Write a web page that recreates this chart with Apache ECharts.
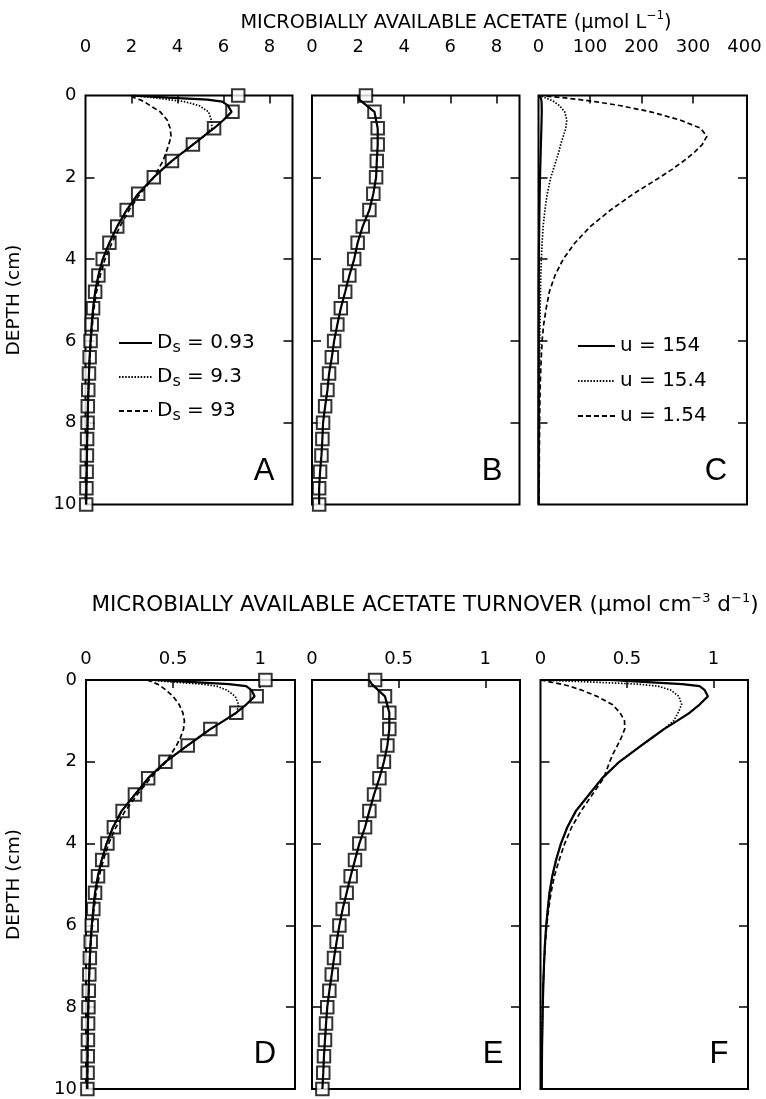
<!DOCTYPE html>
<html><head><meta charset="utf-8">
<script src="https://cdn.jsdelivr.net/npm/echarts@6/dist/echarts.min.js"></script>
<style>html,body{margin:0;padding:0;background:#fff}#c{width:766px;height:1099px}</style>
</head><body><div id="c"></div>
<script>
// ---------------- data ----------------
const squareDepths = [0,0.4,0.8,1.2,1.6,2.0,2.4,2.8,3.2,3.6,4.0,4.4,4.8,5.2,5.6,6.0,6.4,6.8,7.2,7.6,8.0,8.4,8.8,9.2,9.6,10];
const lineDepths = [0,0.05,0.1,0.15,0.25,0.4,0.6,0.8,1.0,1.2,1.4,1.6,1.8,2.0,2.4,2.8,3.2,3.6,4.0,4.4,4.8,5.2,5.6,6.0,6.5,7,7.5,8,8.5,9,9.5,10];
const profileDepths = [0,0.1,0.4,0.8,1.2,1.6,2.0,2.4,2.8,3.2,3.6,4.0,4.4,4.8,5.2,5.6,6.0,6.4,6.8,7.2,7.6,8.0,8.4,8.8,9.2,9.6,10];

// Acetate (umol/L)
const acetateSquaresA = [6.64,6.39,5.59,4.67,3.76,2.97,2.29,1.79,1.38,1.04,0.75,0.56,0.42,0.33,0.27,0.22,0.18,0.15,0.12,0.10,0.09,0.07,0.06,0.05,0.04,0.03];
const acetateBase   = [2.0,3.6,5.3,5.95,6.2,6.35,6.0,5.59,5.13,4.67,4.21,3.76,3.35,2.97,2.29,1.79,1.38,1.04,0.75,0.56,0.42,0.33,0.27,0.22,0.17,0.14,0.11,0.09,0.07,0.06,0.04,0.03];
const acetateDs9_3  = [2.0,2.9,3.6,4.3,4.95,5.35,5.47,5.5,5.13,4.67,4.21,3.76,3.35,2.97,2.29,1.79,1.38,1.04,0.75,0.56,0.42,0.33,0.27,0.22,0.17,0.14,0.11,0.09,0.07,0.06,0.04,0.03];
const acetateDs93   = [2.0,2.1,2.35,2.55,2.82,3.25,3.55,3.68,3.72,3.62,3.5,3.37,3.17,2.98,2.38,1.9,1.5,1.15,0.85,0.64,0.48,0.37,0.3,0.24,0.18,0.14,0.11,0.09,0.07,0.06,0.04,0.03];
const acetateSquaresB = [2.34,2.71,2.85,2.85,2.81,2.78,2.66,2.49,2.2,1.98,1.83,1.62,1.44,1.25,1.1,0.96,0.86,0.74,0.67,0.57,0.48,0.45,0.41,0.35,0.31,0.31];
const acetateLineB    = [2.0,2.05,2.71,2.85,2.85,2.81,2.78,2.66,2.49,2.2,1.98,1.83,1.62,1.44,1.25,1.1,0.96,0.86,0.74,0.67,0.57,0.48,0.45,0.41,0.35,0.31,0.31];
const acetateU15_4 = [0,12,22,30,41,51,55,53,48,43,39,34,29,24,17,12.5,9,7,5.5,4.5,3.8,3.2,2.8,2.4,2,1.7,1.4,1.2,1.0,0.9,0.8,0.7];
const acetateU1_54 = [0,45,80,110,160,218,275,315,327,318,302,282,260,236,185,140,101,71,48,32,21,15,10,7,5,3.5,2.7,2.2,1.8,1.5,1.3,1.2];

// Acetate turnover (umol cm-3 d-1)
const turnoverSquaresD = [1.03,0.98,0.863,0.714,0.584,0.456,0.357,0.281,0.21,0.16,0.123,0.093,0.069,0.052,0.042,0.033,0.027,0.022,0.019,0.016,0.014,0.012,0.011,0.01,0.009,0.008];
const turnoverBase   = [0.4,0.62,0.82,0.92,0.95,0.968,0.92,0.863,0.79,0.714,0.649,0.584,0.52,0.456,0.357,0.281,0.205,0.155,0.118,0.09,0.068,0.052,0.042,0.033,0.025,0.02,0.016,0.013,0.011,0.009,0.008,0.007];
const turnoverDs9_3  = [0.36,0.5,0.66,0.75,0.81,0.857,0.876,0.865,0.79,0.714,0.649,0.584,0.52,0.456,0.357,0.281,0.205,0.155,0.118,0.09,0.068,0.052,0.042,0.033,0.025,0.02,0.016,0.013,0.011,0.009,0.008,0.007];
const turnoverDs93   = [0.35,0.38,0.41,0.43,0.46,0.5,0.535,0.556,0.565,0.56,0.543,0.52,0.49,0.46,0.37,0.295,0.225,0.172,0.13,0.1,0.076,0.058,0.046,0.036,0.027,0.021,0.017,0.014,0.012,0.01,0.009,0.008];
const turnoverSquaresE = [0.364,0.421,0.446,0.446,0.435,0.415,0.389,0.358,0.331,0.306,0.273,0.248,0.223,0.2,0.177,0.158,0.142,0.127,0.114,0.1,0.088,0.081,0.075,0.069,0.065,0.06];
const turnoverLineE    = [0.33,0.345,0.421,0.446,0.446,0.435,0.415,0.389,0.358,0.331,0.306,0.273,0.248,0.223,0.2,0.177,0.158,0.142,0.127,0.114,0.1,0.088,0.081,0.075,0.069,0.065,0.06];
const turnoverU15_4 = [0,0.3,0.56,0.68,0.755,0.8,0.816,0.796,0.77,0.714,0.649,0.584,0.52,0.456,0.357,0.281,0.205,0.155,0.118,0.09,0.068,0.052,0.042,0.033,0.025,0.02,0.016,0.013,0.011,0.009,0.008,0.007];
const turnoverU1_54 = [0,0.06,0.12,0.167,0.24,0.327,0.415,0.46,0.486,0.487,0.468,0.445,0.42,0.4,0.365,0.3,0.235,0.18,0.14,0.108,0.08,0.061,0.047,0.036,0.027,0.02,0.015,0.012,0.01,0.008,0.007,0.006];

// tick labels
const depthTicks = [0,2,4,6,8,10];
const acetateTicksAB = [0,2,4,6,8];
const acetateTicksC = [0,100,200,300,400];
const turnoverTicks = [0,0.5,1];
const legendDs = ['Ds = 0.93','Ds = 9.3','Ds = 93'];
const legendU = ['u = 154','u = 15.4','u = 1.54'];

// ---------------- chart ----------------
const FONT = 'DejaVu Sans';
const pairs = (vals, depths) => vals.map((v, i) => [v, depths[i]]);

const panels = [
  {left:85.5, top:95.5, width:207, height:409, max:9, labels:acetateTicksAB, ticks:[2,4,6,8], labelMargin:39, ylab:true},
  {left:312, top:95.5, width:207.5, height:409, max:9, labels:acetateTicksAB, ticks:[2,4,6,8], labelMargin:39, ylab:false},
  {left:538.5, top:95.5, width:208.5, height:409, max:405, labels:acetateTicksC, ticks:[100,200,300], labelMargin:39, ylab:false},
  {left:86, top:680, width:209, height:409, max:1.2, labels:turnoverTicks, ticks:[0.5,1], labelMargin:12, ylab:true},
  {left:312, top:680, width:208, height:409, max:1.2, labels:turnoverTicks, ticks:[0.5,1], labelMargin:12, ylab:false},
  {left:540.5, top:680, width:207.5, height:409, max:1.2, labels:turnoverTicks, ticks:[0.5,1], labelMargin:12, ylab:false}
];

const grid = [], xAxis = [], yAxis = [];
panels.forEach((p, i) => {
  grid.push({left:p.left, top:p.top, width:p.width, height:p.height, show:true, borderColor:'#000', borderWidth:2, backgroundColor:'transparent'});
  xAxis.push({gridIndex:i, type:'value', position:'top', min:0, max:p.max,
    axisLine:{show:false}, splitLine:{show:false},
    axisTick:{show:true, inside:true, length:8, lineStyle:{color:'#000', width:1.5}, customValues:p.ticks},
    axisLabel:{show:true, customValues:p.labels, margin:p.labelMargin, color:'#000', fontSize:18, fontFamily:FONT}
  });
});
panels.forEach((p, i) => {
  yAxis.push({gridIndex:i, type:'value', inverse:true, min:0, max:10, position:'left',
    axisLine:{show:false}, splitLine:{show:false},
    axisTick:{show:true, inside:true, length:9, lineStyle:{color:'#000', width:1.5}, customValues:[2,4,6,8]},
    axisLabel:{show:p.ylab, customValues:depthTicks, margin:9, color:'#000', fontSize:18, fontFamily:FONT},
    name: p.ylab ? 'DEPTH (cm)' : '', nameLocation:'middle', nameGap:62,
    nameTextStyle:{color:'#000', fontSize:18.5, fontFamily:FONT}
  });
});
panels.forEach((p, i) => {
  yAxis.push({gridIndex:i, type:'value', inverse:true, min:0, max:10, position:'right',
    axisLine:{show:false}, splitLine:{show:false},
    axisTick:{show:true, inside:true, length:9, lineStyle:{color:'#000', width:1.5}, customValues:[2,4,6,8]},
    axisLabel:{show:false}
  });
});

const solid = {color:'#000', width:2.2, type:'solid'};
const dotted = {color:'#000', width:1.7, type:[1.5,1.6]};
const dashed = {color:'#000', width:1.7, type:[5,3]};

function line(name, vals, depths, idx, style) {
  return {type:'line', name, data:pairs(vals, depths), xAxisIndex:idx, yAxisIndex:idx,
    symbol:'none', lineStyle:style, itemStyle:{color:'#000'}, z:4, animation:false};
}
function squares(name, vals, idx) {
  return {type:'scatter', name, data:pairs(vals, squareDepths), xAxisIndex:idx, yAxisIndex:idx,
    symbol:'rect', symbolSize:12.5, clip:false,
    itemStyle:{color:'#fff', borderColor:'#000', borderWidth:2}, z:3, animation:false};
}

const series = [
  squares('A squares', acetateSquaresA, 0),
  line(legendDs[0], acetateBase, lineDepths, 0, solid),
  line(legendDs[1], acetateDs9_3, lineDepths, 0, dotted),
  line(legendDs[2], acetateDs93, lineDepths, 0, dashed),
  squares('B squares', acetateSquaresB, 1),
  line('B profile', acetateLineB, profileDepths, 1, solid),
  line(legendU[0], acetateBase, lineDepths, 2, solid),
  line(legendU[1], acetateU15_4, lineDepths, 2, dotted),
  line(legendU[2], acetateU1_54, lineDepths, 2, dashed),
  squares('D squares', turnoverSquaresD, 3),
  line(legendDs[0], turnoverBase, lineDepths, 3, solid),
  line(legendDs[1], turnoverDs9_3, lineDepths, 3, dotted),
  line(legendDs[2], turnoverDs93, lineDepths, 3, dashed),
  squares('E squares', turnoverSquaresE, 4),
  line('E profile', turnoverLineE, profileDepths, 4, solid),
  line(legendU[0], turnoverBase, lineDepths, 5, solid),
  line(legendU[1], turnoverU15_4, lineDepths, 5, dotted),
  line(legendU[2], turnoverU1_54, lineDepths, 5, dashed)
];

const legendText = {color:'#000', fontSize:20, fontFamily:FONT,
  rich:{d:{fontSize:20, lineHeight:26, fontFamily:FONT, color:'#000'},
        s:{fontSize:16, lineHeight:15, verticalAlign:'bottom', fontFamily:FONT, color:'#000'}}};

const titleTop = {color:'#000', fontSize:19.3, fontWeight:'normal', fontFamily:FONT, lineHeight:26,
  rich:{sup:{fontSize:12, lineHeight:15, verticalAlign:'top', fontFamily:FONT, color:'#000'},
        t:{fontSize:19.3, lineHeight:26, fontFamily:FONT, color:'#000'}}};
const titleBottom = {color:'#000', fontSize:21.5, fontWeight:'normal', fontFamily:FONT, lineHeight:26,
  rich:{sup:{fontSize:13, lineHeight:15, verticalAlign:'top', fontFamily:FONT, color:'#000'},
        t:{fontSize:21.5, lineHeight:26, fontFamily:FONT, color:'#000'}}};
const letterStyle = {color:'#000', fontSize:31, fontWeight:'normal', fontFamily:'Liberation Sans'};

const option = {
  animation:false,
  backgroundColor:'#fff',
  title:[
    {text:'{t|MICROBIALLY AVAILABLE ACETATE (μmol L}{sup|−1}{t|)}', left:456, top:10, textAlign:'center', padding:0, textStyle:titleTop},
    {text:'{t|MICROBIALLY AVAILABLE ACETATE TURNOVER (μmol cm}{sup|−3}{t| d}{sup|−1}{t|)}', left:425, top:592, textAlign:'center', padding:0, textStyle:titleBottom},
    {text:'A', left:264, top:456, textAlign:'center', padding:0, textStyle:letterStyle},
    {text:'B', left:492, top:456, textAlign:'center', padding:0, textStyle:letterStyle},
    {text:'C', left:716, top:456, textAlign:'center', padding:0, textStyle:letterStyle},
    {text:'D', left:265, top:1039, textAlign:'center', padding:0, textStyle:letterStyle},
    {text:'E', left:493, top:1039, textAlign:'center', padding:0, textStyle:letterStyle},
    {text:'F', left:719, top:1039, textAlign:'center', padding:0, textStyle:letterStyle}
  ],
  legend:[
    {data:legendDs, orient:'vertical', left:118, top:333, itemWidth:33, itemHeight:14, itemGap:11, padding:0,
     selectedMode:false, itemStyle:{opacity:0}, textStyle:legendText,
     formatter:(n) => '{d|D}{s|s}{d|' + n.slice(2) + '}'},
    {data:legendU, orient:'vertical', left:577, top:333, itemWidth:37, itemHeight:14, itemGap:9, padding:0,
     selectedMode:false, itemStyle:{opacity:0}, textStyle:{color:'#000', fontSize:20, fontFamily:FONT, lineHeight:26}}
  ],
  grid, xAxis, yAxis, series
};

const chart = echarts.init(document.getElementById('c'), null, {renderer:'canvas'});
chart.setOption(option);
</script>
</body></html>
